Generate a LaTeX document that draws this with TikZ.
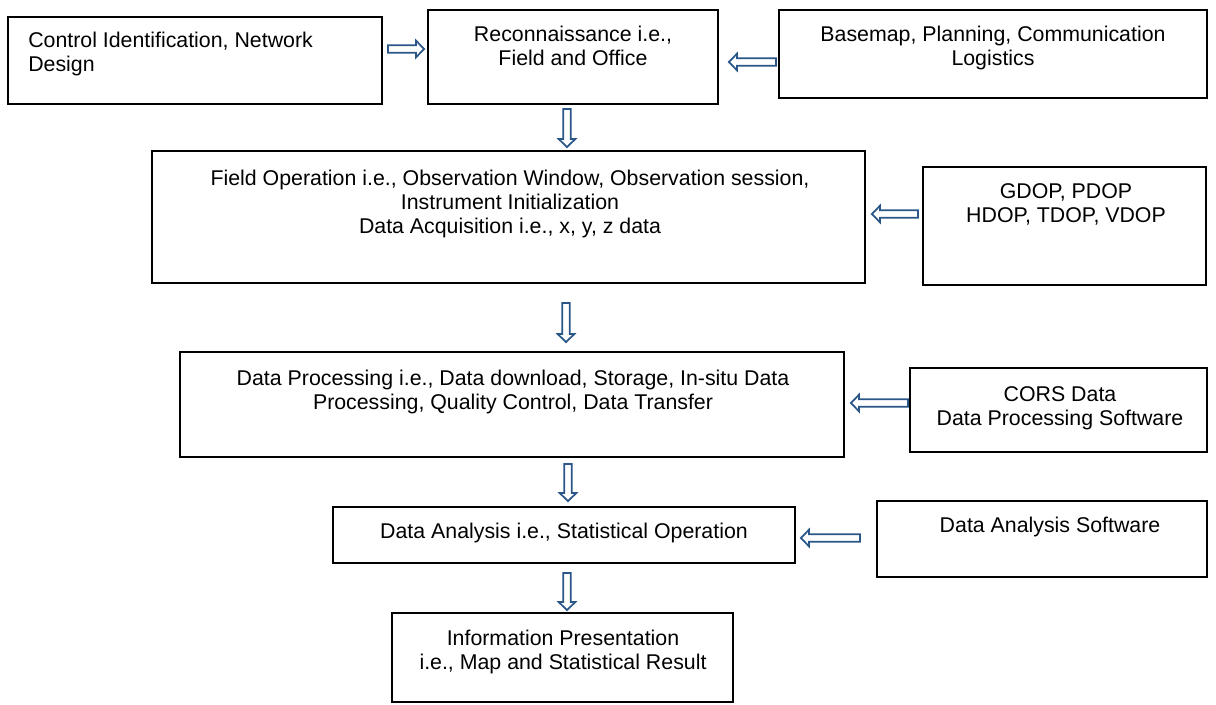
\documentclass[tikz,border=0pt]{standalone}
\usepackage{fontspec}
\setmainfont{Liberation Sans}
\usetikzlibrary{calc}
\definecolor{arrowblue}{HTML}{2A5788}
\tikzset{
  box/.style={draw=black, line width=1.4pt, rectangle, inner sep=0pt},
  txt/.style={inner sep=0pt, font=\fontsize{16}{18}\selectfont, align=center, anchor=north},
  blk/.style={draw=arrowblue, fill=white, line width=1.3pt, line join=miter},
  rarr/.style={blk, to path={let \p1=(\tikztostart), \p2=(\tikztotarget) in
    (\x1,\y1+2.8pt) -- (\x2-6pt,\y1+2.8pt) -- (\x2-6pt,\y1+6.2pt) -- (\x2,\y1) --
    (\x2-6pt,\y1-6.2pt) -- (\x2-6pt,\y1-2.8pt) -- (\x1,\y1-2.8pt) -- cycle}},
  larr/.style={blk, to path={let \p1=(\tikztostart), \p2=(\tikztotarget) in
    (\x1,\y1+2.8pt) -- (\x2+6pt,\y1+2.8pt) -- (\x2+6pt,\y1+6.2pt) -- (\x2,\y1) --
    (\x2+6pt,\y1-6.2pt) -- (\x2+6pt,\y1-2.8pt) -- (\x1,\y1-2.8pt) -- cycle}},
  darr/.style={blk, to path={let \p1=(\tikztostart), \p2=(\tikztotarget) in
    (\x1-2.8pt,\y1) -- (\x1-2.8pt,\y2+6pt) -- (\x1-6.2pt,\y2+6pt) -- (\x1,\y2) --
    (\x1+6.2pt,\y2+6pt) -- (\x1+2.8pt,\y2+6pt) -- (\x1+2.8pt,\y1) -- cycle}},
}
\begin{document}
\begin{tikzpicture}[x=0.75pt, y=-0.75pt]
\fill[white] (0,0) rectangle (1216,704);
\useasboundingbox (0,0) rectangle (1216,704);

% boxes
\node[box, minimum width=280.5pt, minimum height=65.25pt] (A) at (195,60.5) {};
\node[box, minimum width=217.5pt, minimum height=70.5pt] (B) at (573,57) {};
\node[box, minimum width=321pt, minimum height=66pt] (C) at (993,54) {};
\node[box, minimum width=534.75pt, minimum height=99pt] (D) at (508.5,217) {};
\node[box, minimum width=212.25pt, minimum height=88.5pt] (E) at (1064.5,226) {};
\node[box, minimum width=498pt, minimum height=78.75pt] (F) at (512,404.5) {};
\node[box, minimum width=222.75pt, minimum height=63pt] (G) at (1058.5,410) {};
\node[box, minimum width=346.5pt, minimum height=42pt] (H) at (564,535) {};
\node[box, minimum width=247.5pt, minimum height=57pt] (I) at (1042,539) {};
\node[box, minimum width=255.75pt, minimum height=66.75pt] (J) at (562.5,657.5) {};

% texts
\node[txt, anchor=north west, align=left] (At) at (28,32) {Control Identification, Network\\Design};
\node[txt] (Bt) at (573,26) {Reconnaissance i.e.,\\Field and Office};
\node[txt] (Ct) at (993,26) {Basemap, Planning, Communication\\Logistics};
\node[txt] (Dt) at (510,170) {Field Operation i.e., Observation Window, Observation session,\\Instrument Initialization\\Data Acquisition i.e., x, y, z data};
\node[txt] (Et) at (1066,183) {GDOP, PDOP\\HDOP, TDOP, VDOP};
\node[txt] (Ft) at (513,370) {Data Processing i.e., Data download, Storage, In-situ Data\\Processing, Quality Control, Data Transfer};
\node[txt] (Gt) at (1060,386) {CORS Data\\Data Processing Software};
\node[txt] (Ht) at (564,523) {Data Analysis i.e., Statistical Operation};
\node[txt] (It) at (1050,517) {Data Analysis Software};
\node[txt] (Jt) at (563,630) {Information Presentation\\i.e., Map and Statistical Result};

% arrows
\draw[rarr] ($(A.east |- 0,49)+(5,0)$) to ($(B.west |- 0,49)+(-3,0)$);
\draw[larr] ($(C.west |- 0,62)+(-2,0)$) to ($(B.east |- 0,62)+(10,0)$);
\draw[darr] ($(B.south -| 567,0)+(0,4)$) to ($(D.north -| 567,0)+(0,-3)$);
\draw[larr] ($(E.west |- 0,214)+(-4,0)$) to ($(D.east |- 0,214)+(6,0)$);
\draw[darr] ($(D.south -| 566,0)+(0,19)$) to ($(F.north -| 566,0)+(0,-9)$);
\draw[larr] ($(G.west |- 0,403)+(-1,0)$) to ($(F.east |- 0,403)+(6,0)$);
\draw[darr] ($(F.south -| 568,0)+(0,6)$) to ($(H.north -| 568,0)+(0,-5)$);
\draw[larr] ($(I.west |- 0,538)+(-16,0)$) to ($(H.east |- 0,538)+(5,0)$);
\draw[darr] ($(H.south -| 567,0)+(0,9)$) to ($(J.north -| 567,0)+(0,-2)$);
\end{tikzpicture}
\end{document}
